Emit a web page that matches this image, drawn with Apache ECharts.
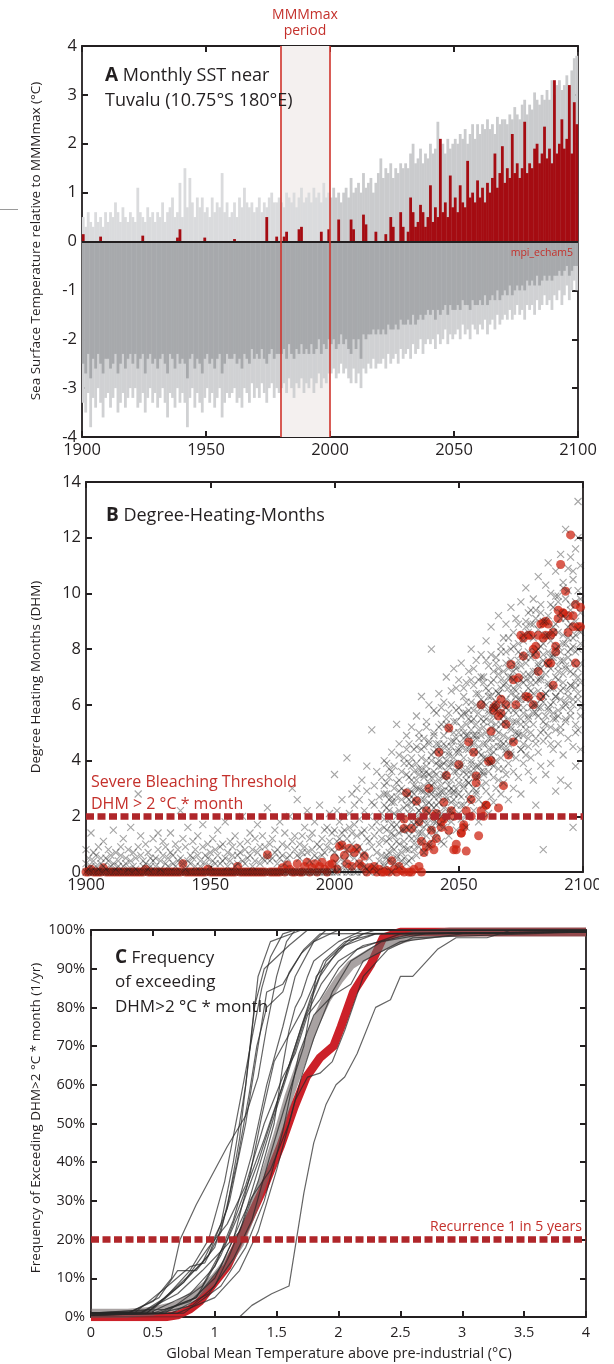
<!DOCTYPE html>
<html><head><meta charset="utf-8">
<script src="https://cdn.jsdelivr.net/npm/echarts@6/dist/echarts.min.js"></script>
<style>html,body{margin:0;padding:0;background:#fff}#c{width:614px;height:1364px}</style>
</head><body><div id="c"></div>
<script>
// ---------- Panel A: monthly SST anomaly (one representative value per year, 1900..2099) ----------
const startYear = 1900;
const yearTicksA = [1900, 1950, 2000, 2050, 2100];
const mmmPeriod = [1980, 2000];
const sstTail = [
-3.3,-3.5,-3.1,-3.8,-3.2,-3.4,-3.0,-3.3,-3.6,-3.2,
-3.1,-3.4,-3.2,-3.0,-3.5,-3.3,-3.1,-3.4,-3.2,-3.0,
-3.2,-3.0,-3.4,-3.3,-3.1,-3.5,-3.2,-3.0,-3.3,-3.1,
-3.4,-3.2,-3.0,-3.3,-3.6,-3.1,-3.2,-3.4,-3.0,-3.3,
-3.1,-3.3,-3.8,-3.2,-3.0,-3.4,-3.1,-3.3,-3.5,-3.2,
-3.0,-3.3,-3.1,-3.4,-3.2,-3.0,-3.6,-3.3,-3.1,-3.2,
-3.1,-3.0,-3.3,-3.2,-3.4,-3.0,-3.1,-3.3,-2.9,-3.2,
-3.0,-3.2,-2.9,-3.1,-3.3,-3.0,-2.9,-3.2,-3.0,-3.1,
-3.0,-2.9,-3.1,-2.8,-3.0,-3.2,-2.9,-3.0,-2.8,-3.1,
-2.9,-3.0,-2.8,-3.1,-2.9,-2.7,-3.0,-2.8,-2.9,-2.7,
-2.7,-2.6,-2.8,-2.7,-2.5,-2.7,-2.6,-2.8,-2.9,-2.6,
-2.9,-2.7,-3.0,-2.6,-2.7,-2.5,-2.6,-2.4,-2.6,-2.5,
-2.5,-2.4,-2.6,-2.3,-2.5,-2.4,-2.3,-2.5,-2.2,-2.4,
-2.3,-2.2,-2.4,-2.1,-2.3,-2.2,-2.0,-2.3,-2.1,-2.0,
-2.1,-2.0,-2.2,-1.9,-2.1,-2.0,-1.8,-2.1,-1.9,-2.0,
-1.9,-1.8,-2.0,-1.7,-1.9,-1.8,-2.0,-1.7,-1.8,-1.9,
-1.7,-1.8,-1.6,-1.9,-1.7,-1.6,-1.8,-1.5,-1.7,-1.6,
-1.5,-1.6,-1.4,-1.6,-1.5,-1.3,-1.5,-1.4,-1.6,-1.3,
-1.4,-1.3,-1.5,-1.2,-1.4,-1.3,-1.1,-1.3,-1.2,-1.4,
-1.1,-1.2,-1.0,-1.3,-1.1,-0.9,-1.2,-1.0,-0.8,-1.0];
const sstBody = [
-2.5,-2.7,-2.3,-2.8,-2.4,-2.6,-2.3,-2.5,-2.7,-2.4,
-2.4,-2.6,-2.5,-2.3,-2.7,-2.5,-2.3,-2.6,-2.4,-2.3,
-2.5,-2.3,-2.6,-2.4,-2.3,-2.7,-2.4,-2.3,-2.5,-2.4,
-2.6,-2.4,-2.3,-2.5,-2.7,-2.3,-2.4,-2.6,-2.3,-2.5,
-2.4,-2.5,-2.8,-2.4,-2.3,-2.6,-2.4,-2.5,-2.7,-2.4,
-2.3,-2.5,-2.4,-2.6,-2.4,-2.3,-2.7,-2.5,-2.3,-2.4,
-2.4,-2.3,-2.5,-2.4,-2.6,-2.3,-2.4,-2.5,-2.2,-2.4,
-2.3,-2.4,-2.2,-2.4,-2.5,-2.3,-2.2,-2.4,-2.3,-2.3,
-2.3,-2.2,-2.4,-2.1,-2.3,-2.4,-2.2,-2.3,-2.1,-2.3,
-2.2,-2.3,-2.1,-2.3,-2.2,-2.0,-2.3,-2.1,-2.2,-2.0,
-2.1,-2.0,-2.2,-2.1,-1.9,-2.1,-2.0,-2.2,-2.3,-2.0,
-2.2,-2.0,-2.4,-1.9,-2.0,-1.9,-1.9,-1.8,-1.9,-1.8,
-1.9,-1.8,-1.9,-1.7,-1.8,-1.8,-1.7,-1.8,-1.6,-1.7,
-1.7,-1.6,-1.7,-1.5,-1.7,-1.6,-1.5,-1.6,-1.5,-1.4,
-1.5,-1.4,-1.6,-1.4,-1.5,-1.4,-1.3,-1.5,-1.3,-1.4,
-1.4,-1.3,-1.4,-1.2,-1.3,-1.3,-1.4,-1.2,-1.3,-1.3,
-1.2,-1.3,-1.1,-1.3,-1.2,-1.1,-1.2,-1.0,-1.2,-1.1,
-1.0,-1.1,-0.9,-1.1,-1.0,-0.9,-1.0,-0.9,-1.0,-0.8,
-0.9,-0.8,-0.9,-0.7,-0.9,-0.8,-0.7,-0.8,-0.7,-0.8,
-0.7,-0.7,-0.6,-0.7,-0.6,-0.5,-0.7,-0.6,-0.5,-0.5];
const sstPos = [
0.5,0.3,0.6,0.4,0.3,0.6,0.4,0.5,0.3,0.6,
0.4,0.6,0.5,0.8,0.6,0.4,0.7,0.5,0.4,0.6,
0.5,0.4,1.1,0.6,0.5,0.4,0.7,0.5,0.6,0.4,
0.6,0.5,0.8,0.4,0.6,0.7,0.9,0.5,0.6,1.2,
0.5,1.5,0.7,1.3,0.8,0.5,0.9,0.7,0.9,0.6,
0.7,0.5,0.9,0.6,0.8,0.7,1.4,0.6,0.8,0.5,
0.6,0.8,0.5,0.9,0.7,1.1,0.8,0.7,0.8,0.6,
0.7,0.9,0.6,0.8,0.7,0.9,1.0,0.8,0.8,0.9,
0.8,0.7,1.0,0.9,0.8,1.0,0.7,0.9,1.1,0.8,
0.9,1.0,0.8,1.1,0.9,1.0,0.8,1.2,0.9,1.0,
0.9,1.1,0.9,1.0,0.8,1.0,1.1,0.9,1.3,1.0,
1.1,1.2,1.0,1.4,1.1,1.2,1.3,1.0,1.2,1.4,
1.7,1.3,1.5,1.4,1.6,1.3,1.5,1.4,1.6,1.5,
1.6,1.5,1.8,2.0,1.6,1.7,1.9,1.6,1.8,1.7,
2.0,1.8,1.9,2.45,1.9,2.0,1.8,2.1,1.9,2.0,
2.1,2.0,2.2,2.1,2.3,2.0,2.2,2.4,2.1,2.4,
2.2,2.4,2.3,2.5,2.3,2.4,2.2,2.55,2.4,2.5,
2.5,2.4,2.6,2.5,2.75,2.6,2.5,2.8,2.9,2.6,
2.8,2.7,3.05,2.9,2.8,3.0,2.9,3.1,2.9,3.3,
3.0,3.2,3.3,3.1,3.2,3.4,3.2,3.5,3.75,3.8];
const sstRed = [
0.15,0,0,0,0,0,0,0.1,0,0,
0,0,0,0,0,0,0,0,0,0,
0,0,0,0,0.12,0,0,0,0,0,
0,0,0,0,0,0,0,0,0.08,0.25,
0,0,0,0,0,0,0,0,0,0.08,
0,0,0,0,0,0,0,0,0,0,
0,0.05,0,0,0,0,0,0,0,0,
0,0,0,0,0.5,0,0,0,0.1,0,
0,0.1,0.2,0,0,0,0,0.25,0.3,0,
0,0,0,0,0,0,0.2,0,0,0.25,
0,0,0,0.45,0,0,0,0,0.45,0.25,
0,0,0,0.55,0.35,0,0,0,0.2,0,
0,0,0.15,0,0.5,0.3,0,0,0.6,0.3,
0,0.2,0.9,0.6,0.3,0.4,0.75,0.6,0.3,0.5,
1.15,0.4,0.7,0.5,2.1,0.6,0.8,0.5,1.35,0.7,
0.9,0.6,1.15,0.8,0.7,1.65,0.9,1.0,0.8,1.25,
0.9,1.1,0.8,1.2,1.0,1.3,1.8,1.1,1.4,1.95,
1.2,1.5,1.3,2.2,1.4,1.6,1.3,1.5,2.45,1.4,
1.6,1.5,1.9,2.0,1.6,1.8,2.35,1.7,1.9,1.6,
3.3,1.8,2.0,2.5,1.9,2.1,3.2,1.8,2.85,2.4];

// ---------- Panel B: Degree-Heating-Months ----------
const dhmThreshold = 2;
const dhmRed = [
0,0,0.1,0,0,0,0,0.15,0,0,
0,0,0,0,0,0,0,0,0,0,
0,0,0,0,0.1,0,0,0,0,0,
0,0,0,0,0,0,0,0,0,0.3,
0,0,0,0,0,0,0,0,0,0.1,
0,0,0,0,0,0,0,0,0,0,
0,0.2,0,0,0,0,0,0,0,0,
0,0,0,0.62,0,0,0,0,0,0.15,
0,0.25,0.1,0,0,0.3,0,0,0.2,0.35,
0,0.15,0.3,0,0.2,0.35,0.1,0,0.25,0.3,
0.5,0.1,0.92,0.97,0.6,0.3,0.85,0.2,0.7,0.85,
0.3,0.2,0.57,0,0.15,0.1,0.2,0,0.1,0,
0,0.05,0,0.4,0.1,0,0.2,0.05,0,2.84,
0,0,0.1,2.55,0.2,0,0.7,0.9,3.0,1.5,
2.0,1.2,4.3,1.6,1.9,3.46,5.17,2.2,0.8,1.0,
3.85,1.4,1.7,0.75,4.67,2.0,4.3,3.45,1.3,6.0,
2.0,2.4,3.97,5.05,5.9,6.0,2.3,5.7,3.1,6.0,
4.2,7.45,4.67,6.0,6.97,8.5,7.75,6.3,6.27,8.5,
6.0,8.1,8.5,6.3,8.94,8.5,8.9,7.5,8.6,8.1,
9.4,11.04,9.3,10.08,8.6,12.1,9.2,7.5,8.8,9.5];
const dhmRedExtra = [[2028,1.56],[2028,1.9],[2031,1.56],[2034,1.8],[2035,1.1],[2037,2.2],[2039,1.0],[2040,0.8],
[2041,2.1],[2043,1.8],[2044,2.5],[2046,1.5],[2048,2.0],[2049,0.8],[2051,1.4],[2052,1.6],[2053,2.2],[2055,2.6],
[2057,3.2],[2059,2.2],[2061,2.4],[2063,4.0],[2064,5.8],[2066,5.6],[2067,6.2],[2069,5.3],[2072,6.9],[2076,8.4],
[2078,8.5],[2080,8.0],[2081,7.8],[2082,7.2],[2083,8.9],[2084,8.4],[2085,9.0],[2086,7.5],[2087,8.5],[2088,6.7],
[2089,7.9],[2090,9.1],[2092,9.3],[2094,9.2],[2096,8.8],[2097,9.6],[2099,8.8]];
const dhmCross = [
[0,0.3,0.8],[0.1,0.5,0],[0,0.2,1.4],[0.4,0,0.7],[0,0.6,0.2],[0.1,0,0.9],[0.3,0,0.5],[0,0.2,1.1],[0.5,0.1,0],[0,0.4,0.8],
[0.2,0,0.6],[0,0.3,1.5],[0.1,0.7,0],[0,0.4,0.2],[0.6,0,0.9],[0,0.2,1.2],[0.3,0,0.5],[0,0.8,0.1],[0.4,0,1.6],[0,0.2,0.7],
[0.1,0.5,0],[0,0.9,2.8],[0.6,0,1.3],[0,0.2,0.4],[0.3,0,1.0],[0,0.7,0.1],[0.2,0,0.5],[0,1.2,0.4],[0.5,0,0.2],[0,0.8,1.4],
[0.1,0.4,0],[0,0.6,1.1],[0.3,0,0.9],[0,0.5,0.2],[0.7,0,1.4],[0,0.3,0.6],[0.2,0,1.0],[0,0.8,0.4],[0.5,0,2.2],[0,0.3,1.2],
[0.1,0.9,0],[0,0.4,1.6],[0.6,0,0.3],[0,1.1,0.5],[0.2,0,0.8],[0,0.6,1.3],[0.4,0,0.2],[0,0.9,1.7],[0.3,0,0.6],[0,0.5,1.0],
[0.2,0.7,0],[0,0.4,1.2],[0.8,0,0.3],[0,0.6,1.5],[0.3,0,0.9],[0,1.0,0.4],[0.5,0,1.8],[0,0.7,0.2],[0.4,0,1.1],[0,0.9,0.6],
[0.2,0,1.3],[0,0.6,0.3],[0.7,0,1.0],[0,0.4,2.0],[0.3,0,0.8],[0,1.1,0.5],[0.6,0,1.4],[0,0.8,0.2],[0.4,0,1.2],[0,0.7,1.7],
[0.3,0,0.9],[0,0.5,1.3],[0.9,0,0.4],[0,0.6,2.3],[0.4,0,1.0],[0,1.2,0.5],[0.7,0,1.5],[0,0.8,0.3],[0.5,0,1.8],[0,1.0,0.6],
[0.3,0,1.4],[0,0.9,0.5],[0.6,0,2.0],[0,1.1,3.0],[0.8,0,1.3],[0,0.6,2.6],[0.5,0,1.0],[0,1.3,0.7],[0.9,0,1.6],[0,0.7,2.2],
[0.4,0,1.2],[0,1.4,0.8],[0.6,0,1.8],[0,1.0,0.5],[0.9,0,2.4],[0,1.2,0.6],[0.7,0,1.5],[0,1.6,0.9],[1.1,0,2.1],[0,0.8,1.4],
[0,0.7,1.5,3.5],[0.3,1.1,0,2.2],[0.5,1.8,0.1,1.2],[0,0.9,2.6,1.4],[0.4,1.5,0.2,2.0],[0,1.2,4.1,0.8],[0.6,2.1,0,1.6],[0.2,1.0,2.8,1.4],[0,1.7,0.5,2.4],[0.8,0,1.3,3.0],
[0.3,1.9,0.9,2.6],[0,1.4,3.3,0.6],[0.7,2.2,0.2,1.5],[0.1,1.2,2.9,3.8],[0.5,2.0,1.1,0],[0.9,1.6,5.1,2.5],[0.2,2.4,1.3,3.1],[0,1.8,0.7,3.6],[1.0,2.7,0.4,1.5],[0.6,2.1,3.4,1.2],
[0.3,1.6,2.8,4.0],[1.1,2.3,0.5,3.2],[0.7,1.9,3.7,2.6],[0,2.5,1.4,4.3],[1.3,3.0,0.8,2.1],[0.5,2.7,5.3,1.7],[1.0,3.3,2.2,4.6],[0.4,2.0,3.6,1.5],[1.5,2.9,4.1,0.9],[0.8,3.5,2.4,4.9],
[0.8,2.1,3.4,1.5,4.6,2.8],[1.2,2.9,0.5,3.8,2.3,5.2],[2.0,1.0,3.1,4.4,2.6,1.7],[0.6,2.5,3.9,1.8,5.6,3.3],[1.4,3.0,2.2,4.8,0.9,3.7],[2.3,1.1,4.1,2.9,6.3,1.9],[1.6,3.5,0.7,2.6,4.5,3.1],[2.8,1.3,4.0,5.2,2.2,3.6],[1.0,3.2,2.5,4.7,1.9,6.0],[2.4,4.2,1.5,3.4,8.0,2.9],
[1.8,3.6,5.0,2.7,1.2,4.3],[3.0,2.1,4.6,1.4,5.7,3.5],[2.5,4.0,1.7,3.3,6.4,2.8],[1.1,3.8,2.9,5.3,4.4,2.0],[3.4,2.3,4.9,1.6,6.1,3.9],[2.7,4.5,1.9,3.6,5.5,7.0],[3.8,2.0,5.1,2.9,4.2,1.3],[2.2,4.7,3.3,6.0,1.8,3.9],[3.6,2.6,5.4,4.1,7.3,2.9],[1.5,4.3,3.0,5.8,2.4,6.6],
[3.2,5.0,2.1,4.4,6.9,3.7],[2.7,4.6,3.8,1.9,5.6,7.5],[4.1,3.0,5.7,2.4,6.3,4.8],[2.0,4.9,3.5,6.8,1.6,5.3],[3.7,5.5,2.8,4.4,7.2,3.2],[4.6,2.5,6.1,3.9,5.1,8.0],[3.0,5.8,4.3,2.2,6.7,4.9],[4.9,3.4,6.4,2.8,5.3,7.6],[2.6,5.1,3.8,6.9,4.5,1.8],[4.2,6.2,3.1,5.5,7.8,3.6],
[3.5,5.4,4.6,7.0,2.4,6.1],[5.0,3.2,6.6,4.1,8.3,2.9],[4.4,6.3,3.6,5.7,7.4,2.1],[2.7,5.2,4.8,6.8,3.9,8.8],[5.6,3.4,7.2,4.3,6.0,2.5],[4.0,6.5,5.1,3.0,7.7,5.8],[3.3,5.9,4.5,7.1,6.4,9.2],[5.3,4.1,6.9,2.8,7.9,4.7],[4.6,6.7,3.7,5.6,8.4,3.2],[5.9,4.4,7.5,6.2,3.5,8.9],
[4.8,6.6,3.9,7.3,5.5,2.6],[6.1,4.3,8.0,5.2,7.0,9.5],[3.6,5.8,6.9,4.7,8.6,3.0],[5.4,7.4,4.1,6.3,9.1,5.0],[6.7,4.9,8.2,3.4,7.6,5.9],[4.4,6.2,7.8,5.3,9.7,2.8],[5.7,7.1,4.6,8.5,6.4,3.9],[6.9,5.1,8.8,4.2,7.5,10.2],[4.8,6.6,7.9,3.6,9.3,5.5],[6.2,7.7,5.0,8.9,4.1,6.8],
[5.3,7.2,8.4,6.0,3.3,9.8],[6.8,4.6,7.9,9.4,5.7,2.4],[7.5,5.9,8.7,4.3,6.5,10.6],[5.0,6.9,8.1,3.8,9.6,7.3],[6.3,7.8,5.4,9.0,4.7,0.8],[7.1,5.6,8.5,6.4,10.3,3.5],[5.8,7.4,9.2,4.9,6.7,11.1],[6.6,8.3,5.2,7.7,10.0,3.9],[7.8,6.1,9.5,4.4,8.6,5.5],[5.5,7.0,8.9,6.3,10.8,2.9],
[6.9,8.1,5.8,9.7,4.6,7.4],[7.6,6.2,9.1,5.0,11.4,3.3],[5.9,8.5,7.1,10.2,4.2,6.6],[7.3,6.0,9.8,5.4,8.2,12.3],[6.5,8.8,4.8,7.7,10.9,3.1],[8.0,6.7,9.4,5.6,11.3,7.2],[6.2,8.4,7.5,10.5,4.5,1.6],[7.9,5.3,9.0,6.8,11.6,3.8],[6.4,8.7,13.3,5.1,10.1,7.3],[7.5,9.3,5.9,8.2,11.0,4.4]];
// second ensemble batch of crosses, years 2020..2099
const dhmCross2Start = 2020;
const dhmCross2 = [
[1.9,0.2,3.1,2.4],[0.6,2.8,1.5,3.9],[2.2,1.2,0.4,3.4],[1.7,3.6,0.9,2.7],[2.5,0.3,3.8,1.6],[1.1,3.2,2.0,0.6],[2.9,1.4,4.2,0.2],[0.7,2.6,3.0,1.9],[2.3,3.9,1.1,0.5],[1.6,2.7,4.4,0.3],
[2.6,3.9,1.3,0.4],[3.3,1.8,4.1,2.5],[1.5,2.8,3.6,0.8],[3.0,4.5,2.0,1.2],[2.2,3.5,5.0,1.7],[3.7,2.6,1.4,4.4],[2.9,4.8,1.9,3.4],[1.7,3.8,2.4,5.4],[3.5,2.1,4.6,0.9],[2.8,4.0,3.1,1.6],
[3.2,4.9,2.3,5.8],[2.4,3.9,4.4,1.8],[3.8,2.7,5.2,4.6],[4.2,3.1,2.1,5.9],[2.9,4.6,3.5,1.0],[4.0,5.3,2.6,3.3],[3.1,4.3,5.7,2.2],[4.5,3.0,2.5,6.5],[2.8,5.0,3.9,4.7],[3.6,4.8,2.0,5.4],
[4.3,3.4,5.9,2.8],[3.9,5.2,4.5,2.4],[5.0,3.6,6.6,3.1],[4.4,5.7,3.3,6.1],[3.2,4.9,5.8,2.6],[5.4,4.0,6.9,3.5],[4.6,5.5,3.7,7.3],[3.8,6.0,4.8,2.9],[5.7,4.3,6.4,3.4],[4.9,5.9,3.9,7.0],
[5.2,4.1,6.8,3.6],[4.6,6.0,5.5,7.6],[5.8,4.8,3.9,6.5],[4.2,6.3,5.4,7.8],[5.9,4.5,6.9,3.8],[4.8,6.1,7.5,5.3],[6.4,5.0,3.7,7.3],[4.5,5.7,6.6,8.1],[6.0,4.9,7.2,5.4],[5.3,6.8,4.3,7.9],
[5.8,7.0,4.6,8.4],[5.1,6.4,7.6,4.2],[6.6,5.4,8.1,7.2],[5.7,7.3,4.8,6.5],[6.2,5.0,7.9,8.9],[5.5,6.9,4.4,7.4],[6.8,5.9,8.3,4.9],[5.3,7.7,6.2,9.0],[7.1,5.6,8.6,4.5],[5.9,7.0,6.5,9.4],
[6.4,7.8,5.7,8.9],[7.2,6.0,9.1,4.8],[5.6,6.9,8.0,7.4],[7.0,5.9,9.3,6.2],[6.1,8.2,5.1,7.6],[7.5,6.4,9.0,5.3],[6.8,8.5,5.9,7.9],[6.0,7.3,9.6,4.6],[7.7,6.6,8.8,5.7],[6.3,8.0,9.9,5.1],
[7.2,5.6,8.6,9.9],[6.5,7.9,5.2,9.3],[8.2,6.8,7.6,10.4],[6.1,7.4,9.1,5.5],[7.9,6.3,8.4,10.1],[6.7,8.9,5.8,9.6],[7.1,6.0,8.1,10.8],[8.5,6.6,9.7,5.0],[7.0,8.0,6.2,12.0],[6.8,8.6,9.8,5.6]];

// ---------- Panel C: frequency of exceeding DHM>2 vs global warming ----------
const recurrenceLevel = 20;
const freqRed = [[0,0],[0.6,0],[0.7,0.5],[0.8,2],[0.88,4],[1.0,9],[1.1,13],[1.18,18.5],[1.26,24],[1.39,33],[1.53,44],[1.64,54],[1.74,62],[1.85,67],[1.96,70],[2.02,75],[2.12,84],[2.26,91],[2.36,98],[2.5,99.5],[4,99.5]];
const freqMean = [[0,1],[0.3,1],[0.5,1.5],[0.7,3],[0.85,6],[1.0,10],[1.1,14],[1.2,19],[1.3,27],[1.4,36],[1.5,46],[1.6,57],[1.7,66],[1.8,75],[1.9,82],[2.0,87],[2.1,91],[2.25,94],[2.4,96.5],[2.6,98.5],[2.9,99.5],[4,99.5]];
const freqModels = [
[[0,1],[0.3,1],[0.5,4],[0.65,10],[0.72,20],[0.85,29],[1.0,38],[1.1,44],[1.25,52],[1.35,62],[1.42,75],[1.5,88],[1.58,97],[1.65,100],[4,100]],
[[0,1],[0.4,1],[0.6,5],[0.8,12],[0.95,20],[1.08,35],[1.2,55],[1.3,72],[1.38,85],[1.45,93],[1.55,99],[1.65,100],[4,100]],
[[0,0.5],[0.45,1],[0.7,8],[0.9,14],[1.05,24],[1.15,40],[1.25,60],[1.32,80],[1.4,90],[1.6,96],[1.75,100],[4,100]],
[[0,1],[0.5,2],[0.75,9],[0.95,16],[1.1,28],[1.2,46],[1.28,68],[1.35,88],[1.45,97],[1.7,100],[4,100]],
[[0,1],[0.3,1],[0.55,5],[0.7,12],[0.85,12],[1.0,18],[1.12,30],[1.25,50],[1.35,70],[1.42,84],[1.55,86],[1.7,94],[1.9,100],[4,100]],
[[0,1],[0.5,1.5],[0.8,6],[1.0,13],[1.15,25],[1.3,42],[1.42,60],[1.55,75],[1.65,88],[1.8,97],[2.0,100],[4,100]],
[[0,1],[0.55,1],[0.85,5],[1.05,16],[1.2,27],[1.35,40],[1.5,55],[1.65,70],[1.78,83],[1.9,92],[2.1,98],[2.3,100],[4,100]],
[[0,1],[0.6,1],[0.9,8],[1.1,20],[1.25,33],[1.4,46],[1.55,60],[1.7,75],[1.85,88],[2.0,95],[2.2,99],[4,99.5]],
[[0,0.5],[0.65,1],[0.95,6],[1.15,15],[1.3,25],[1.45,42],[1.6,58],[1.72,70],[1.82,88],[1.9,91],[2.05,96],[2.3,99],[4,99.5]],
[[0,0.5],[0.7,1],[1.0,5],[1.2,12],[1.35,22],[1.5,38],[1.65,56],[1.75,62],[1.85,63],[1.95,66],[2.05,74],[2.2,88],[2.4,95],[2.6,98],[4,99.5]],
[[0,0.5],[0.75,1],[1.05,8],[1.25,18],[1.4,30],[1.55,48],[1.68,68],[1.8,78],[1.95,83],[2.1,86],[2.2,92],[2.5,97],[3.0,99],[4,99.5]],
[[0,0],[1.2,0],[1.3,3],[1.46,6],[1.6,8],[1.65,18],[1.72,32],[1.8,45],[1.9,55],[1.98,60],[2.05,62],[2.15,68],[2.3,80],[2.42,82],[2.5,88],[2.6,88],[2.8,95],[2.95,98],[3.2,98],[3.4,100],[4,100]],
[[0,1],[0.4,1],[0.7,6],[0.9,12],[1.05,17],[1.2,22],[1.35,35],[1.48,50],[1.55,65],[1.6,74],[1.65,80],[1.7,83],[1.75,88],[1.8,92],[2.0,97],[2.2,100],[4,100]],
[[0,1],[0.5,1],[0.8,4],[1.0,10],[1.15,20],[1.28,36],[1.38,52],[1.48,66],[1.6,73],[1.72,80],[1.88,92],[2.05,97],[2.3,99],[4,99.5]],
[[0,1],[0.6,2],[0.85,5],[1.05,13],[1.2,24],[1.3,31],[1.45,38],[1.6,50],[1.7,62],[1.8,72],[1.95,84],[2.1,92],[2.35,97],[2.7,99],[4,99.5]],
[[0,1],[0.45,1],[0.75,9],[0.95,18],[1.1,24],[1.25,34],[1.4,50],[1.55,62],[1.65,68],[1.75,78],[1.85,82],[2.0,90],[2.15,95],[2.5,99],[4,99.5]],
[[0,0.5],[0.55,1],[0.82,3],[1.0,8],[1.12,16],[1.22,24],[1.35,38],[1.5,54],[1.62,66],[1.74,78],[1.86,86],[2.0,92],[2.2,96],[2.6,99],[4,99.5]],
[[0,1],[0.35,1],[0.62,8],[0.8,13],[0.92,14],[1.05,22],[1.18,40],[1.28,58],[1.34,70],[1.42,80],[1.55,84],[1.6,89],[1.72,95],[1.85,99],[4,99.5]]];

// ---------- build ----------
const FONT = '"Open Sans", "Noto Sans", sans-serif';
const INK = '#231f20';
const RED_TXT = '#c4302b';
const yearPairs = arr => arr.map((v, i) => [startYear + i + 0.5, v]);
const crossPts = [];
dhmCross.forEach((vals, i) => vals.forEach(v => crossPts.push([startYear + i, v])));
dhmCross2.forEach((vals, i) => vals.forEach(v => crossPts.push([dhmCross2Start + i, v])));
const redPts = dhmRed.map((v, i) => [startYear + i, v]).concat(dhmRedExtra);

const axisLine = {show: true, onZero: false, lineStyle: {color: INK, width: 1.8}};
const tick = {show: true, inside: true, length: 6, lineStyle: {color: INK, width: 2}};
function ax(o) {
  return Object.assign({type: 'value', axisLine, axisTick: tick, splitLine: {show: false},
    axisLabel: {show: false}}, o);
}
const plain = v => String(v);
const lab = (size, margin, fmt) => ({show: true, color: INK, fontFamily: FONT, fontSize: size, margin, formatter: fmt || plain});

const grids = [
  {left: 82, top: 46, width: 496, height: 391},
  {left: 86, top: 482, width: 497, height: 390},
  {left: 91, top: 930, width: 495, height: 387}
];
const xAxes = [
  ax({gridIndex: 0, min: 1900, max: 2100, interval: 50, position: 'bottom', axisLabel: lab(16.5, 5)}),
  ax({gridIndex: 0, min: 1900, max: 2100, interval: 50, position: 'top'}),
  ax({gridIndex: 1, min: 1900, max: 2100, interval: 50, position: 'bottom', axisLabel: lab(16.5, 5)}),
  ax({gridIndex: 1, min: 1900, max: 2100, interval: 50, position: 'top'}),
  ax({gridIndex: 2, min: 0, max: 4, interval: 0.5, position: 'bottom', axisLabel: lab(14.5, 8)}),
  ax({gridIndex: 2, min: 0, max: 4, interval: 0.5, position: 'top'})
];
const yAxes = [
  ax({gridIndex: 0, min: -4, max: 4, interval: 1, position: 'left', axisLabel: lab(16.5, 5)}),
  ax({gridIndex: 0, min: -4, max: 4, interval: 1, position: 'right'}),
  ax({gridIndex: 1, min: 0, max: 14, interval: 2, position: 'left', axisLabel: lab(16.5, 5)}),
  ax({gridIndex: 1, min: 0, max: 14, interval: 2, position: 'right'}),
  ax({gridIndex: 2, min: 0, max: 100, interval: 10, position: 'left', axisLabel: lab(14.5, 6, v => v + '%')}),
  ax({gridIndex: 2, min: 0, max: 100, interval: 10, position: 'right'})
];

const barS = (data, color, z) => ({type: 'bar', xAxisIndex: 0, yAxisIndex: 0, data: yearPairs(data),
  barWidth: 2.8, barGap: '-100%', itemStyle: {color}, z, silent: true});
const posColor = p => (p.value[0] < 2000 ? '#dadbdd' : '#cacbcd');

const series = [
  {type: 'line', xAxisIndex: 0, yAxisIndex: 0, data: [], z: 0, silent: true,
    markArea: {silent: true, itemStyle: {color: '#f4f0ef'}, data: [[{xAxis: mmmPeriod[0]}, {xAxis: mmmPeriod[1]}]]}},
  barS(sstTail, '#d0d1d3', 2),
  barS(sstBody, '#a7a9ac', 3),
  barS(sstPos, posColor, 3),
  barS(sstRed, '#a50c12', 4),
  {type: 'line', xAxisIndex: 0, yAxisIndex: 0, data: [], z: 6, silent: true,
    markLine: {silent: true, symbol: 'none', label: {show: false}, data: [
      {yAxis: 0, lineStyle: {color: INK, width: 2, type: 'solid'}},
      {xAxis: mmmPeriod[0], lineStyle: {color: '#d0342c', width: 1.6, type: 'solid'}},
      {xAxis: mmmPeriod[1], lineStyle: {color: '#d0342c', width: 1.6, type: 'solid'}}]}},
  // Panel B
  {type: 'scatter', xAxisIndex: 2, yAxisIndex: 2, data: redPts, symbol: 'circle', symbolSize: 9,
    itemStyle: {color: 'rgba(205,34,16,0.92)'}, z: 2, silent: true},
  {type: 'scatter', xAxisIndex: 2, yAxisIndex: 2, data: crossPts, symbol: 'path://M0 0L10 10M10 0L0 10',
    symbolSize: 7, itemStyle: {color: 'none', borderColor: 'rgba(30,30,30,0.5)', borderWidth: 1.1}, z: 3, silent: true},
  {type: 'line', xAxisIndex: 2, yAxisIndex: 2, data: [], z: 5, silent: true,
    markLine: {silent: true, symbol: 'none', label: {show: false},
      lineStyle: {color: '#b0262a', width: 6.5, type: [8, 3.5]}, data: [{yAxis: dhmThreshold}]}},
  // Panel C
  {type: 'line', xAxisIndex: 4, yAxisIndex: 4, data: freqRed, symbol: 'none', z: 2, silent: true,
    lineStyle: {color: '#cc2129', width: 8.5, join: 'round', cap: 'butt'}},
  {type: 'line', xAxisIndex: 4, yAxisIndex: 4, data: freqMean, symbol: 'none', z: 3, silent: true,
    lineStyle: {color: 'rgba(110,100,100,0.6)', width: 9, join: 'round', cap: 'butt'}}
];
freqModels.forEach(m => series.push({type: 'line', xAxisIndex: 4, yAxisIndex: 4, data: m, symbol: 'none', z: 4,
  silent: true, lineStyle: {color: 'rgba(40,40,40,0.72)', width: 1.2}}));
series.push({type: 'line', xAxisIndex: 4, yAxisIndex: 4, data: [], z: 5, silent: true,
  markLine: {silent: true, symbol: 'none', label: {show: false},
    lineStyle: {color: '#b0262a', width: 6.5, type: [8, 3.5]}, data: [{yAxis: recurrenceLevel}]}});

const T = (text, x, y, o) => ({type: 'text', x, y, z: 50, silent: true,
  style: Object.assign({text, fill: INK, fontFamily: FONT, fontSize: 18, textAlign: 'left', textVerticalAlign: 'middle'}, o || {})});
const rich = {b: {fontWeight: 'bold', fontFamily: FONT, fontSize: 19, fill: INK}};

const graphic = [
  T('MMMmax', 305, 15, {fill: RED_TXT, fontSize: 14, textAlign: 'center'}),
  T('period', 305, 31, {fill: RED_TXT, fontSize: 14, textAlign: 'center'}),
  T('{b|A} Monthly SST near', 105, 76, {rich}),
  T('Tuvalu (10.75°S 180°E)', 105, 101),
  T('mpi_echam5', 573, 253, {fill: RED_TXT, fontSize: 10.5, textAlign: 'right'}),
  T('{b|B} Degree-Heating-Months', 106, 516, {rich}),
  T('Severe Bleaching Threshold', 91, 782, {fill: RED_TXT, fontSize: 16}),
  T('DHM > 2 °C * month', 91, 804, {fill: RED_TXT, fontSize: 16}),
  T('{b|C} Frequency', 115, 958, {rich, fontSize: 17}),
  T('of exceeding', 115, 982, {fontSize: 17}),
  T('DHM>2 °C * month', 115, 1007, {fontSize: 17}),
  T('Recurrence 1 in 5 years', 582, 1227, {fill: RED_TXT, fontSize: 14, textAlign: 'right'}),
  T('Global Mean Temperature above pre-industrial (°C)', 339, 1354, {fontSize: 14.5, textAlign: 'center'}),
  {type: 'text', x: 36, y: 241, rotation: Math.PI / 2, z: 50, silent: true,
    style: {text: 'Sea Surface Temperature relative to MMMmax (°C)', fill: INK, fontFamily: FONT, fontSize: 13.5, textAlign: 'center', textVerticalAlign: 'middle'}},
  {type: 'text', x: 36, y: 677, rotation: Math.PI / 2, z: 50, silent: true,
    style: {text: 'Degree Heating Months (DHM)', fill: INK, fontFamily: FONT, fontSize: 13.5, textAlign: 'center', textVerticalAlign: 'middle'}},
  {type: 'text', x: 36, y: 1118, rotation: Math.PI / 2, z: 50, silent: true,
    style: {text: 'Frequency of Exceeding DHM>2 °C * month (1/yr)', fill: INK, fontFamily: FONT, fontSize: 13.5, textAlign: 'center', textVerticalAlign: 'middle'}},
  {type: 'line', z: 50, silent: true, shape: {x1: 0, y1: 209.5, x2: 18, y2: 209.5}, style: {stroke: '#9a9a9a', lineWidth: 1}},
  {type: 'rect', z: 60, silent: true, shape: {x: 599, y: 0, width: 15, height: 1364}, style: {fill: '#ffffff'}}
];

const chart = echarts.init(document.getElementById('c'), null, {renderer: 'canvas'});
chart.setOption({animation: false, backgroundColor: '#ffffff', grid: grids, xAxis: xAxes, yAxis: yAxes, series, graphic});
</script></body></html>
